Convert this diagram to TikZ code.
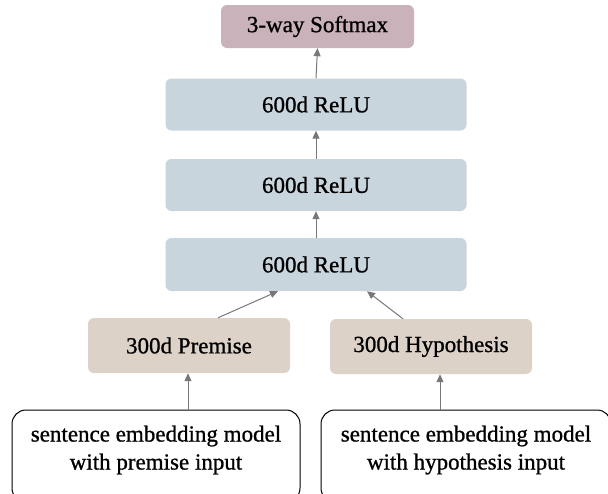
\documentclass[tikz,border=0pt]{standalone}
\usepackage{fontspec}
\setmainfont{Liberation Serif}
\newfontfamily\semib[FakeBold=0.9]{Liberation Serif}
\usetikzlibrary{arrows.meta}
\definecolor{softc}{HTML}{C9B2BA}
\definecolor{reluc}{HTML}{C9D5DD}
\definecolor{inpc}{HTML}{DDD2C7}
\definecolor{arrc}{HTML}{77777B}
\tikzset{
  lay/.style={rounded corners=6pt, inner sep=0pt, font=\semib\fontsize{23}{28}\selectfont},
  arr/.style={draw=arrc, line width=1pt, -{Triangle[length=8pt,width=7pt]}},
}
\begin{document}
\begin{tikzpicture}[x=1pt,y=-1pt]
\useasboundingbox (0,0) rectangle (608,493);
\clip (0,0) rectangle (608,493);
\node[lay, fill=softc, minimum width=193pt, minimum height=43pt] (sm) at (317.5,26.5) {3-way Softmax};
\node[lay, fill=reluc, minimum width=301pt, minimum height=52pt] (r3) at (316,104.5) {600d ReLU};
\node[lay, fill=reluc, minimum width=301pt, minimum height=52pt] (r2) at (316,185) {600d ReLU};
\node[lay, fill=reluc, minimum width=301pt, minimum height=53pt] (r1) at (316,264.5) {600d ReLU};
\node[lay, fill=inpc, minimum width=202pt, minimum height=55pt] (pr) at (189,345.5) {300d Premise};
\node[lay, fill=inpc, minimum width=202pt, minimum height=55pt] (hy) at (431,346.5) {300d Hypothesis};
\node[lay, draw=black, line width=1pt, rounded corners=14pt, fill=white, minimum width=288pt, minimum height=92pt] (el) at (156,456) {};
\node[lay, draw=black, line width=1pt, rounded corners=14pt, fill=white, minimum width=290pt, minimum height=92pt] (er) at (466,456) {};
\node[font=\semib\fontsize{23}{28}\selectfont, align=center] (elt) at (156,450) {sentence embedding model\\with premise input};
\node[font=\semib\fontsize{23}{28}\selectfont, align=center] (ert) at (466,450) {sentence embedding model\\with hypothesis input};
\draw[arr] (r3.north) -- (sm.south);
\draw[arr] (r2.north) -- (r3.south);
\draw[arr] (r1.north) -- (r2.south);
\draw[arr] (pr.north -| 218,0) -- (r1.south -| 278,0);
\draw[arr] (hy.north -| 403,0) -- (r1.south -| 367,0);
\draw[arr] (el.north -| 188,0) -- (pr.south -| 188,0);
\draw[arr] (er.north -| 440,0) -- (hy.south -| 440,0);
\end{tikzpicture}
\end{document}
